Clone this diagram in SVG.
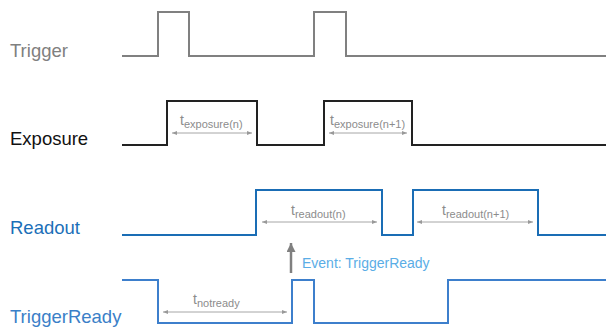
<svg xmlns="http://www.w3.org/2000/svg" width="606" height="329" viewBox="0 0 606 329">
<defs>
<marker id="dim" viewBox="0 0 10 10" refX="10" refY="5" markerWidth="8" markerHeight="5" orient="auto-start-reverse" markerUnits="userSpaceOnUse">
<path d="M0,1 L10,5 L0,9 Z" fill="#999"/>
</marker>
<marker id="evt" viewBox="0 0 10 10" refX="10" refY="5" markerWidth="10" markerHeight="9" orient="auto" markerUnits="userSpaceOnUse">
<path d="M0,0 L10,5 L0,10 Z" fill="#808080"/>
</marker>
</defs>
<style>
.lbl{font-family:"Liberation Sans",Arial,sans-serif;font-size:18.5px}
.wave{fill:none;stroke-width:2;stroke-linejoin:miter}
.dimline{stroke:#a6a6a6;stroke-width:1;marker-start:url(#dim);marker-end:url(#dim)}
.t{font-family:"Liberation Sans",Arial,sans-serif;font-size:14px;fill:#8c8c8c}
.sub{font-size:11px}
</style>
<rect width="606" height="329" fill="#fff"/>
<g id="trigger">
<text class="lbl" x="10" y="57" fill="#808080">Trigger</text>
<path class="wave" stroke="#808080" d="M122,56 H158 V12 H189 V56 H314 V12 H346 V56 H606"/>
</g>
<g id="exposure">
<text class="lbl" x="10" y="145" fill="#111">Exposure</text>
<path class="wave" stroke="#222" d="M122,145 H167 V101 H257 V145 H324 V101 H412 V145 H606"/>
</g>
<g id="readout">
<text class="lbl" x="10" y="234" fill="#1b6fb8">Readout</text>
<path class="wave" stroke="#1a6db5" stroke-width="2.5" d="M122,235 H256 V190 H382 V235 H413 V190 H538 V235 H606"/>
</g>
<g id="triggerready">
<text class="lbl" x="10" y="323" fill="#3a80c8">TriggerReady</text>
<path class="wave" stroke="#3d7fcc" d="M122,280 H158 V323 H292 V280 H314 V323 H448 V280 H606"/>
</g>
<g id="connectors">
<line class="dimline" x1="172" y1="133" x2="252" y2="133"/>
<line class="dimline" x1="329" y1="133" x2="407" y2="133"/>
<line class="dimline" x1="262" y1="222" x2="377" y2="222"/>
<line class="dimline" x1="417" y1="222" x2="533" y2="222"/>
<line class="dimline" x1="163" y1="312" x2="287" y2="312"/>
<line x1="291" y1="273" x2="291" y2="243" stroke="#808080" stroke-width="2.5" marker-end="url(#evt)"/>
</g>
<g id="labels">
<text class="t" x="180" y="125">t<tspan class="sub" dy="3">exposure(n)</tspan></text>
<text class="t" x="330" y="125">t<tspan class="sub" dy="3">exposure(n+1)</tspan></text>
<text class="t" x="291" y="215">t<tspan class="sub" dy="3">readout(n)</tspan></text>
<text class="t" x="442" y="215">t<tspan class="sub" dy="3">readout(n+1)</tspan></text>
<text class="t" x="193" y="304">t<tspan class="sub" dy="3">notready</tspan></text>
<text x="302" y="268" font-family="'Liberation Sans',Arial,sans-serif" font-size="14" fill="#5aade6">Event: TriggerReady</text>
</g>
</svg>
